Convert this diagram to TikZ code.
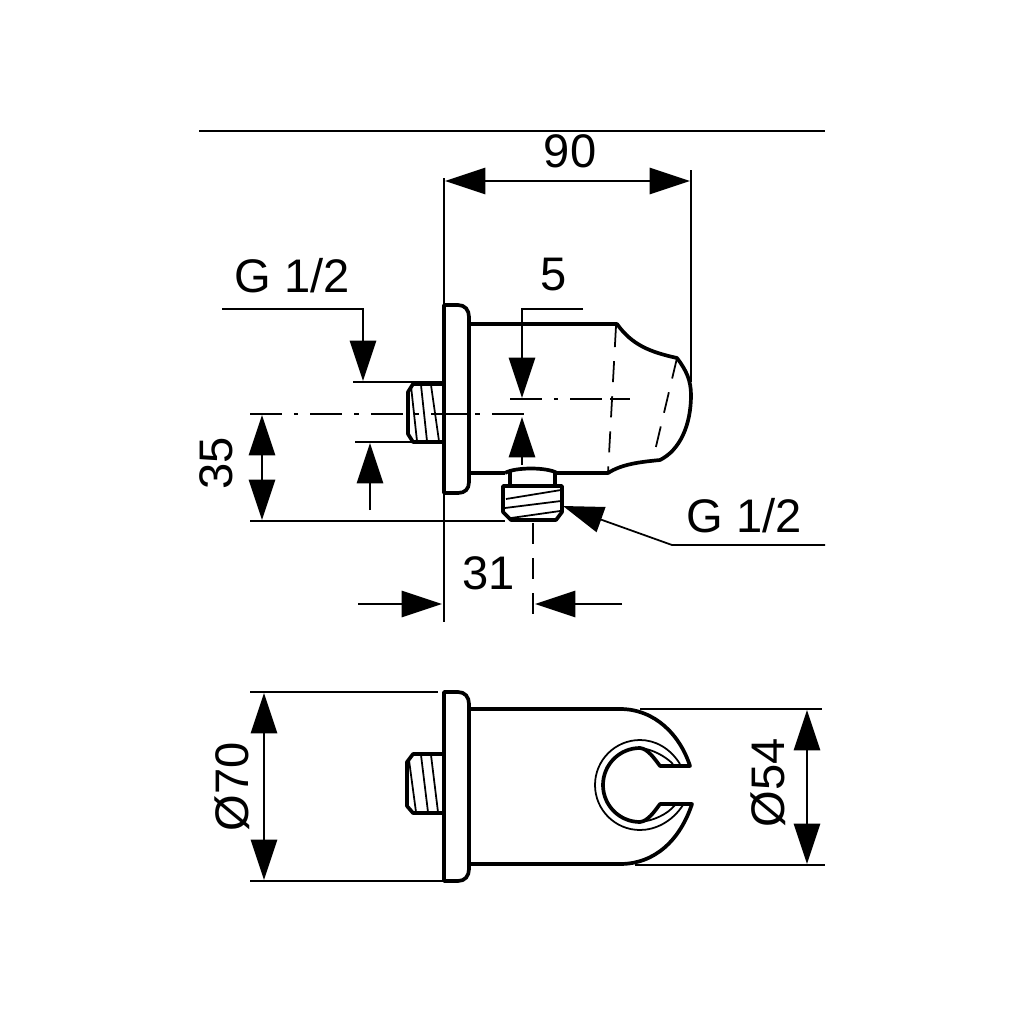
\documentclass[tikz,border=0pt]{standalone}
\usepackage{fontspec}
\setmainfont{Liberation Sans}
\usetikzlibrary{arrows.meta}
\tikzset{
  part/.style={line width=1.05pt,line join=round},
  thin part/.style={line width=0.5pt},
  dimline/.style={line width=0.5pt},
  dashline/.style={line width=0.5pt,dash pattern=on 6pt off 4pt},
  centerline/.style={line width=0.5pt,dash pattern=on 9pt off 3.5pt on 1.2pt off 3.5pt},
  bigtip/.style={-{Triangle[length=11.5pt,width=7.5pt]}},
  twotips/.style={{Triangle[length=11.5pt,width=7.5pt]}-{Triangle[length=11.5pt,width=7.5pt]}},
  dimtext/.style={font=\fontsize{13.4}{15}\selectfont,inner sep=0pt}
}
\begin{document}
\begin{tikzpicture}[x=0.01cm,y=-0.01cm]
\useasboundingbox (0,0) rectangle (1024,1024);
\fill[white] (0,0) rectangle (1024,1024);
% top rule
\draw[dimline] (199,131) -- (825,131);
% ---- side view ----
% extension lines
\draw[dimline] (444,178) -- (444,305);
\draw[dimline] (444,493) -- (444,622);
\draw[dimline] (691,170) -- (691,382);
\draw[dimline] (353,382) -- (442,382);
\draw[dimline] (355,442) -- (415,442);
\draw[dimline] (250,521) -- (505,521);
\draw[dashline] (533,523) -- (533,622);
% centre lines
\draw[centerline] (250,414) -- (532,414);
\draw[centerline] (510,399) -- (630,399);
\draw[dimline] (610,399) -- (630,399);
% flange
\draw[part,fill=white] (444,305) -- (458,305) .. controls (465,305) and (469,310) .. (469,317)
  -- (469,482) .. controls (469,489) and (465,493) .. (458,493) -- (444,493) -- cycle;
\draw[dimline] (444,414) -- (468,414);
% body
\draw[part] (469,324) -- (617,324) .. controls (632,345) and (650,352) .. (677,358)
  .. controls (686,370) and (691,380) .. (691,395)
  .. controls (691,425) and (680,450) .. (660,460)
  .. controls (640,462) and (622,464) .. (608,473) -- (557,473);
\draw[part] (469,473) -- (505,473);
\draw[dashline] (616,326) -- (608,473);
\draw[dashline] (677,358) -- (654,455);
% rear stub
\draw[part] (442,384) -- (413,384) -- (408,392) -- (408,434) -- (413,442) -- (442,442);
\draw[thin part] (411,386) -- (417,441) (421,385) -- (427,441) (431,385) -- (439,441);
% lower fitting
\draw[part] (505,473) .. controls (515,467) and (547,467) .. (557,473);
\draw[part] (510,471) -- (510,486) (555,471) -- (555,486);
\draw[part] (503,486) -- (562,486) -- (562,512) -- (556,520) -- (511,520) -- (503,512) -- cycle;
\draw[thin part] (506,499) -- (561,490) (505,508) -- (561,501) (511,518) -- (560,511);
% dimension 90
\draw[dimline,twotips] (445,181) -- (690,181);
\node[dimtext] (t90) at (570,151) {90};
% G 1/2 left
\node[dimtext] (tg1) at (292,276) {G 1/2};
\draw[dimline,bigtip] (222,309) -- (363,309) -- (363,381);
\draw[dimline,bigtip] (370,510) -- (370,443);
% dimension 5
\node[dimtext] (t5) at (554,275) {5};
\draw[dimline,bigtip] (583,309) -- (522,309) -- (522,398);
\draw[dimline,bigtip] (522,465) -- (522,417);
% dimension 35
\draw[dimline,twotips] (262,415) -- (262,520);
\node[dimtext,rotate=90] (t35) at (216,463) {35};
% G 1/2 right
\node[dimtext] (tg2) at (744,516) {G 1/2};
\draw[dimline,bigtip] (825,545) -- (672,545) -- (563,506);
% dimension 31
\node[dimtext] (t31) at (489,573) {31};
\draw[dimline,bigtip] (358,604) -- (442,604);
\draw[dimline,bigtip] (622,604) -- (535,604);
% ---- front view ----
\draw[dimline] (250,692) -- (438,692);
\draw[dimline] (250,881) -- (443,881);
\draw[dimline] (640,709) -- (822,709);
\draw[dimline] (635,865) -- (825,865);
% flange
\draw[part] (444,692) -- (458,692) .. controls (465,692) and (469,697) .. (469,704)
  -- (469,869) .. controls (469,876) and (465,881) .. (458,881) -- (444,881) -- cycle;
% rear stub
\draw[part] (443,754) -- (413,754) -- (407,762) -- (407,806) -- (413,813) -- (443,813);
\draw[thin part] (409,760) -- (416,812) (421,755) -- (428,812) (431,755) -- (438,812);
% body and clip
\draw[part] (469,709) -- (620,709) .. controls (655,709) and (680,735) .. (690,766) -- (660,766)
  .. controls (654,758) and (648,749) .. (640,748)
  arc[start angle=-90,end angle=-270,radius=37]
  .. controls (648,821) and (654,812) .. (660,804) -- (692,804)
  .. controls (680,840) and (655,864) .. (620,864) -- (469,864);
\draw[thin part] (680,764) .. controls (670,748) and (655,740) .. (640,740)
  arc[start angle=-90,end angle=-270,radius=45]
  .. controls (655,830) and (672,822) .. (683,805);
\draw[thin part] (640,748) .. controls (652,749) and (665,756) .. (673,764);
\draw[thin part] (640,822) .. controls (652,821) and (667,815) .. (675,805);
% dimension 70
\draw[dimline,twotips] (264,693) -- (264,880);
\node[dimtext,rotate=90] (t70) at (232,787) {Ø70};
% dimension 54
\draw[dimline,twotips] (807,710) -- (807,864);
\node[dimtext,rotate=90] (t54) at (768,783) {Ø54};
\end{tikzpicture}
\end{document}
